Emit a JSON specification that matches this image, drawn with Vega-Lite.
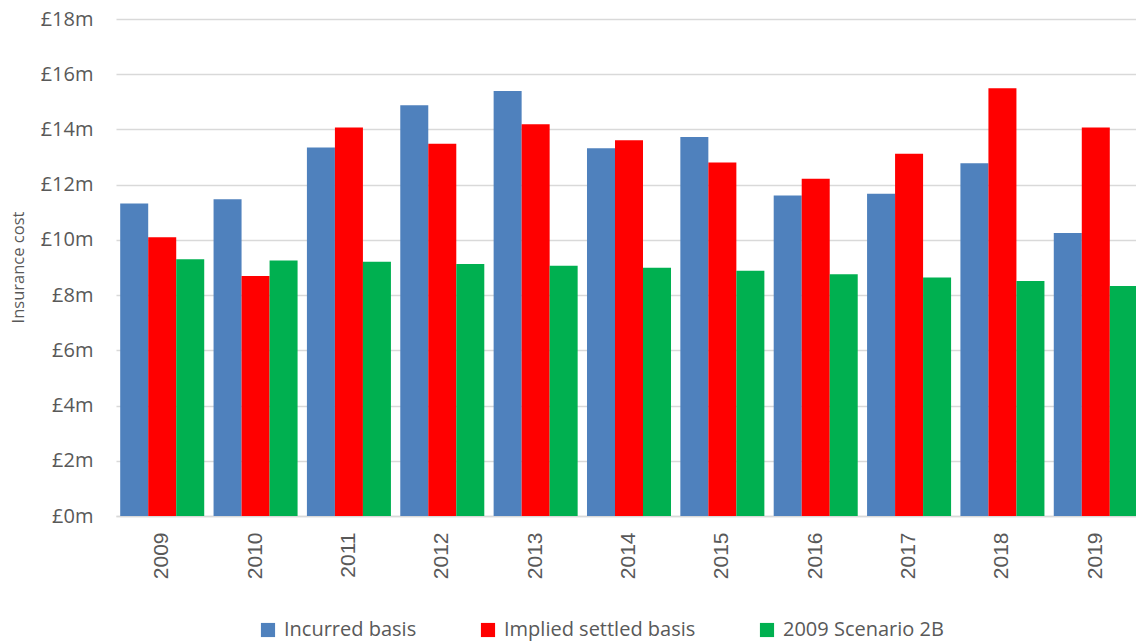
{
  "$schema": "https://vega.github.io/schema/vega-lite/v6.json",
  "autosize": {"type": "none"},
  "width": 1020,
  "height": 497,
  "padding": {"left": 116, "top": 19, "right": 0, "bottom": 127},
  "background": "white",
  "config": {
    "view": {"stroke": null},
    "font": "Open Sans"
  },
  "data": {
    "values": [
      {"year": "2009", "series": "Incurred basis", "value": 11.32},
      {"year": "2009", "series": "Implied settled basis", "value": 10.10},
      {"year": "2009", "series": "2009 Scenario 2B", "value": 9.30},
      {"year": "2010", "series": "Incurred basis", "value": 11.47},
      {"year": "2010", "series": "Implied settled basis", "value": 8.69},
      {"year": "2010", "series": "2009 Scenario 2B", "value": 9.25},
      {"year": "2011", "series": "Incurred basis", "value": 13.35},
      {"year": "2011", "series": "Implied settled basis", "value": 14.07},
      {"year": "2011", "series": "2009 Scenario 2B", "value": 9.21},
      {"year": "2012", "series": "Incurred basis", "value": 14.88},
      {"year": "2012", "series": "Implied settled basis", "value": 13.48},
      {"year": "2012", "series": "2009 Scenario 2B", "value": 9.13},
      {"year": "2013", "series": "Incurred basis", "value": 15.39},
      {"year": "2013", "series": "Implied settled basis", "value": 14.19},
      {"year": "2013", "series": "2009 Scenario 2B", "value": 9.06},
      {"year": "2014", "series": "Incurred basis", "value": 13.32},
      {"year": "2014", "series": "Implied settled basis", "value": 13.61},
      {"year": "2014", "series": "2009 Scenario 2B", "value": 8.99},
      {"year": "2015", "series": "Incurred basis", "value": 13.73},
      {"year": "2015", "series": "Implied settled basis", "value": 12.80},
      {"year": "2015", "series": "2009 Scenario 2B", "value": 8.88},
      {"year": "2016", "series": "Incurred basis", "value": 11.61},
      {"year": "2016", "series": "Implied settled basis", "value": 12.21},
      {"year": "2016", "series": "2009 Scenario 2B", "value": 8.76},
      {"year": "2017", "series": "Incurred basis", "value": 11.67},
      {"year": "2017", "series": "Implied settled basis", "value": 13.12},
      {"year": "2017", "series": "2009 Scenario 2B", "value": 8.64},
      {"year": "2018", "series": "Incurred basis", "value": 12.78},
      {"year": "2018", "series": "Implied settled basis", "value": 15.49},
      {"year": "2018", "series": "2009 Scenario 2B", "value": 8.51},
      {"year": "2019", "series": "Incurred basis", "value": 10.25},
      {"year": "2019", "series": "Implied settled basis", "value": 14.07},
      {"year": "2019", "series": "2009 Scenario 2B", "value": 8.33}
    ]
  },
  "mark": {"type": "bar"},
  "encoding": {
    "x": {
      "field": "year",
      "type": "nominal",
      "scale": {"range": [0, 1026], "paddingInner": 0.1, "paddingOuter": 0.045},
      "axis": {
        "title": null,
        "labelAngle": -90,
        "labelFont": "Liberation Sans",
        "labelFontSize": 21,
        "labelColor": "#595959",
        "labelPadding": 16,
        "ticks": false,
        "domainColor": "#d9d9d9",
        "domainWidth": 1.5,
        "grid": false
      }
    },
    "xOffset": {
      "field": "series",
      "type": "nominal",
      "sort": ["Incurred basis", "Implied settled basis", "2009 Scenario 2B"],
      "scale": {"paddingInner": 0, "paddingOuter": 0}
    },
    "y": {
      "field": "value",
      "type": "quantitative",
      "scale": {"domain": [0, 18], "nice": false},
      "axis": {
        "values": [0, 2, 4, 6, 8, 10, 12, 14, 16, 18],
        "labelExpr": "'£' + datum.value + 'm'",
        "labelFont": "Open Sans",
        "labelFontSize": 20,
        "labelColor": "#595959",
        "labelPadding": 23,
        "ticks": false,
        "domain": false,
        "gridColor": "#d9d9d9",
        "gridWidth": 1.3,
        "title": "Insurance cost",
        "titleFont": "Open Sans",
        "titleFontSize": 16.5,
        "titleFontWeight": "normal",
        "titleColor": "#595959",
        "titleX": -98,
        "titleY": 248,
        "titleBaseline": "middle",
        "titleAlign": "center",
        "titleAngle": -90
      }
    },
    "color": {
      "field": "series",
      "type": "nominal",
      "sort": ["Incurred basis", "Implied settled basis", "2009 Scenario 2B"],
      "scale": {
        "domain": ["Incurred basis", "Implied settled basis", "2009 Scenario 2B"],
        "range": ["#4f81bd", "#ff0000", "#00b050"]
      },
      "legend": {
        "title": null,
        "orient": "none",
        "direction": "horizontal",
        "legendX": 142,
        "legendY": 601,
        "padding": 0,
        "symbolType": "square",
        "symbolSize": 200,
        "symbolStrokeWidth": 0,
        "symbolOpacity": 1,
        "labelFont": "Open Sans",
        "labelFontSize": 20,
        "labelColor": "#595959",
        "labelOffset": 6,
        "columnPadding": 61,
        "labelLimit": 400
      }
    }
  }
}
